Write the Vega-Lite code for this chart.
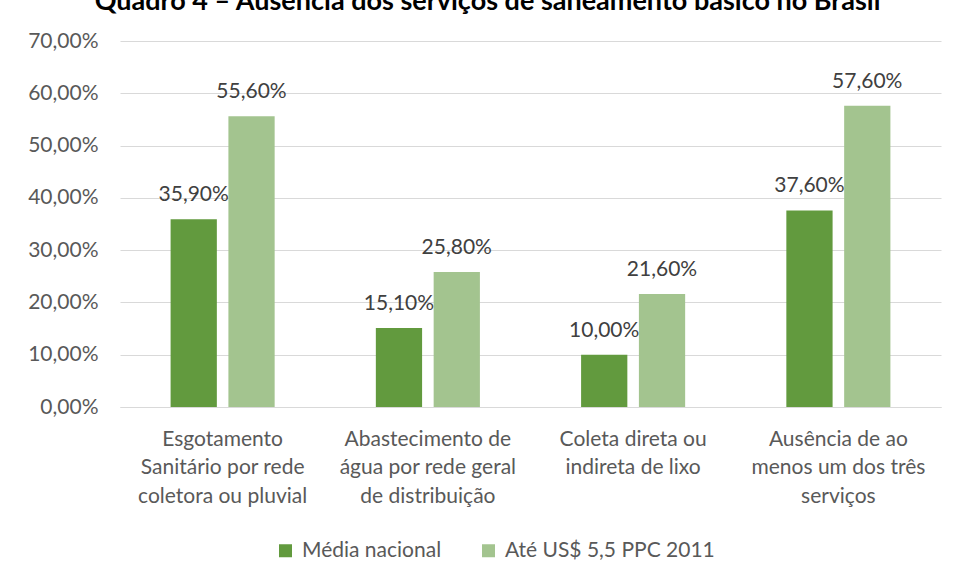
{
  "$schema": "https://vega.github.io/schema/vega-lite/v6.json",
  "autosize": "none",
  "width": 821,
  "height": 366,
  "padding": {"left": 120, "top": 41, "right": 13, "bottom": 171},
  "background": "white",
  "config": {
    "locale": {"number": {"decimal": ",", "thousands": ".", "grouping": [3], "currency": ["R$ ", ""]}},
    "font": "Lato",
    "view": {"stroke": null}
  },
  "title": {
    "text": "Quadro 4 – Ausência dos serviços de saneamento básico no Brasil",
    "fontSize": 27,
    "fontWeight": "bold",
    "color": "#000000",
    "font": "Lato",
    "anchor": "middle",
    "dx": -43,
    "offset": 14
  },
  "data": {
    "values": [
      {"categoria": "Esgotamento\nSanitário por rede\ncoletora ou pluvial", "serie": "Média nacional", "valor": 0.359},
      {"categoria": "Esgotamento\nSanitário por rede\ncoletora ou pluvial", "serie": "Até US$ 5,5 PPC 2011", "valor": 0.556},
      {"categoria": "Abastecimento de\nágua por rede geral\nde distribuição", "serie": "Média nacional", "valor": 0.151},
      {"categoria": "Abastecimento de\nágua por rede geral\nde distribuição", "serie": "Até US$ 5,5 PPC 2011", "valor": 0.258},
      {"categoria": "Coleta direta ou\nindireta de lixo", "serie": "Média nacional", "valor": 0.100},
      {"categoria": "Coleta direta ou\nindireta de lixo", "serie": "Até US$ 5,5 PPC 2011", "valor": 0.216},
      {"categoria": "Ausência de ao\nmenos um dos três\nserviços", "serie": "Média nacional", "valor": 0.376},
      {"categoria": "Ausência de ao\nmenos um dos três\nserviços", "serie": "Até US$ 5,5 PPC 2011", "valor": 0.576}
    ]
  },
  "encoding": {
    "x": {
      "field": "categoria",
      "type": "nominal",
      "sort": null,
      "scale": {"paddingInner": 0.493, "paddingOuter": 0.2465},
      "axis": {
        "title": null,
        "labelAngle": 0,
        "labelExpr": "split(datum.label, '\\n')",
        "labelPadding": 21,
        "ticks": false,
        "tickSize": 0,
        "domainColor": "#d9d9d9",
        "domainWidth": 1,
        "labelFontSize": 21,
        "labelColor": "#595959",
        "labelLineHeight": 28.5,
        "labelBaseline": "top",
        "labelLimit": 0,
        "labelFont": "Lato",
        "grid": false
      }
    },
    "xOffset": {"field": "serie", "sort": null, "scale": {"paddingInner": 0.2, "paddingOuter": 0}},
    "y": {
      "field": "valor",
      "type": "quantitative",
      "scale": {"domain": [0, 0.7]},
      "axis": {
        "title": null,
        "values": [0, 0.1, 0.2, 0.3, 0.4, 0.5, 0.6, 0.7],
        "format": ".2%",
        "labelPadding": 22,
        "ticks": false,
        "tickSize": 0,
        "domain": false,
        "gridColor": "#d9d9d9",
        "gridWidth": 1,
        "labelFontSize": 21,
        "labelColor": "#595959",
        "labelFont": "Lato"
      }
    }
  },
  "layer": [
    {
      "mark": {"type": "bar"},
      "encoding": {
        "color": {
          "field": "serie",
          "type": "nominal",
          "sort": null,
          "scale": {"domain": ["Média nacional", "Até US$ 5,5 PPC 2011"], "range": ["#629a3e", "#a3c48f"]},
          "legend": {
            "orient": "none",
            "legendX": 155,
            "legendY": 499,
            "direction": "horizontal",
            "title": null,
            "symbolType": "square",
            "symbolSize": 169,
            "symbolStrokeWidth": 0,
            "labelFontSize": 21,
            "labelColor": "#595959",
            "labelFont": "Lato",
            "labelLimit": 0,
            "labelOffset": 6,
            "columnPadding": 36,
            "padding": 0
          }
        }
      }
    },
    {
      "mark": {"type": "text", "dy": -18, "baseline": "alphabetic", "fontSize": 21, "color": "#404040", "font": "Lato"},
      "encoding": {
        "text": {"field": "valor", "type": "quantitative", "format": ".2%"}
      }
    }
  ]
}
